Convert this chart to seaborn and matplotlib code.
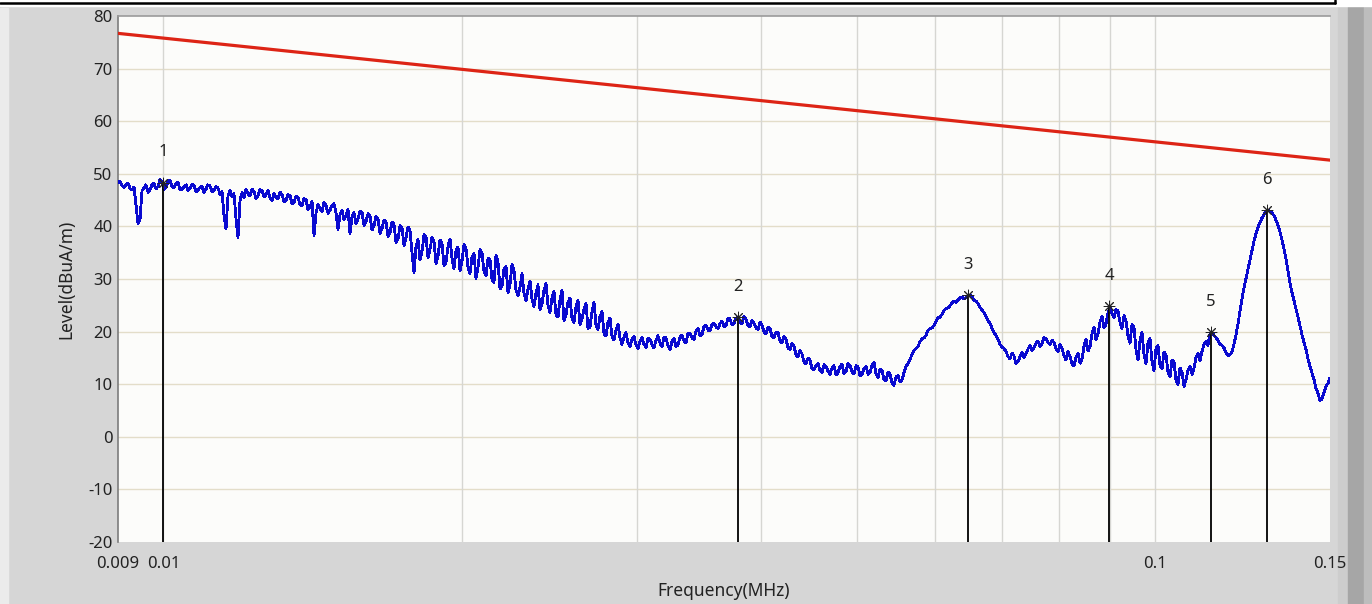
import numpy as np
import pandas as pd
import matplotlib
matplotlib.use("Agg")
import matplotlib.pyplot as plt
from matplotlib.patches import Rectangle
from matplotlib.lines import Line2D
import seaborn as sns

# ---------------- data ----------------
f_start, f_stop = 0.009, 0.15          # MHz, analyser sweep span
# measured level (dBuA/m), one reading per sweep step (log-spaced sweep)
trace_levels = [
    # 0.009 - 0.0111
    48.3, 48.6, 47.8, 47.4, 48.0, 48.2, 47.2, 46.9, 47.5, 44.1,
    40.6, 41.2, 46.8, 47.3, 47.9, 46.5, 46.9, 48.0, 48.2, 47.1,
    47.6, 48.9, 48.6, 47.0, 47.4, 48.5, 48.8, 47.6, 47.3, 48.1,
    48.4, 46.9, 47.0, 47.6, 47.9, 46.8, 47.2, 48.0, 47.8, 46.6,
    46.9, 47.4, 47.6, 46.5, 47.1, 47.9, 47.7, 46.6, 46.8, 47.6,
    # 0.0111 - 0.0139
    47.3, 46.1, 46.6, 42.0, 39.5, 45.8, 46.9, 45.6, 46.2, 41.5,
    37.9, 44.9, 46.4, 45.5, 47.0, 46.2, 45.8, 47.1, 46.6, 45.3,
    45.9, 47.0, 46.8, 45.6, 46.0, 46.9, 45.4, 44.9, 46.3, 45.5,
    45.2, 46.5, 46.1, 44.7, 44.9, 46.0, 45.9, 44.3, 44.6, 45.8,
    45.5, 44.2, 43.9, 45.3, 45.1, 43.2, 43.6, 44.8, 38.3, 42.5,
    # 0.0139 - 0.0174
    44.2, 43.4, 42.8, 44.6, 44.0, 42.5, 43.1, 44.0, 44.3, 42.6,
    39.4, 42.2, 43.0, 41.3, 42.1, 43.2, 38.6, 41.8, 42.6, 40.5,
    41.4, 42.9, 42.7, 40.2, 40.9, 42.4, 42.0, 39.3, 40.2, 41.9,
    41.5, 38.7, 39.6, 41.2, 40.9, 38.1, 38.8, 40.8, 40.4, 36.9,
    37.6, 40.1, 39.8, 36.4, 37.9, 39.9, 39.2, 35.0, 31.2, 36.2,
    # 0.0174 - 0.0218
    37.5, 33.6, 35.2, 38.4, 38.0, 34.1, 35.6, 37.9, 37.2, 32.9,
    34.4, 37.4, 36.8, 32.5, 33.1, 36.2, 37.6, 33.9, 32.0, 35.4,
    36.1, 31.6, 33.4, 36.6, 35.8, 32.3, 31.0, 34.2, 34.9, 30.1,
    32.2, 35.6, 35.0, 31.4, 30.6, 33.9, 33.8, 29.9, 29.4, 34.5,
    33.2, 28.1, 28.6, 31.9, 32.4, 27.4, 29.0, 32.8, 31.6, 27.9,
    # 0.0218 - 0.0274
    26.8, 28.4, 31.0, 27.3, 25.9, 28.1, 29.6, 26.2, 24.8, 27.3,
    28.9, 24.1, 25.3, 27.9, 29.1, 25.0, 23.6, 26.4, 27.6, 23.2,
    22.8, 26.1, 27.9, 22.0, 23.2, 25.6, 26.4, 22.5, 21.7, 24.8,
    26.0, 21.3, 22.4, 24.2, 25.4, 20.6, 20.9, 23.8, 25.6, 21.2,
    20.4, 22.9, 23.8, 19.6, 19.2, 21.8, 22.6, 19.0, 18.4, 20.3,
    # 0.0274 - 0.0344
    21.4, 18.8, 17.6, 19.0, 19.8, 17.9, 17.2, 18.5, 19.1, 17.4,
    16.8, 18.2, 18.9, 17.6, 17.0, 18.7, 18.6, 17.5, 16.9, 18.3,
    19.2, 17.8, 17.1, 18.9, 18.8, 17.3, 16.6, 18.1, 18.7, 17.2,
    17.4, 19.0, 19.3, 18.2, 17.9, 19.7, 19.6, 18.8, 18.5, 20.1,
    20.6, 19.2, 19.4, 21.0, 21.2, 20.3, 20.1, 21.4, 21.6, 20.9,
    # 0.0344 - 0.0432
    20.6, 21.5, 22.0, 21.0, 21.1, 22.6, 22.4, 21.3, 21.6, 22.5,
    22.7, 21.8, 21.5, 22.9, 22.3, 21.2, 20.9, 22.1, 21.6, 20.7,
    20.4, 21.8, 21.3, 19.9, 19.6, 20.8, 20.6, 19.0, 18.9, 19.9,
    19.8, 18.2, 17.9, 19.0, 18.6, 16.9, 16.6, 17.8, 17.2, 15.6,
    15.2, 16.4, 15.8, 14.2, 13.9, 15.0, 14.6, 12.9, 12.8, 13.6,
    # 0.0432 - 0.0542
    13.9, 12.6, 12.2, 13.7, 13.4, 12.5, 11.9, 13.1, 13.5, 11.8,
    12.1, 13.4, 13.8, 12.0, 12.4, 13.9, 13.6, 12.3, 12.0, 13.5,
    13.3, 11.6, 11.8, 13.0, 13.4, 11.9, 12.2, 13.6, 14.2, 12.0,
    11.3, 12.9, 12.6, 10.9, 10.6, 12.3, 12.0, 10.2, 9.8, 11.4,
    11.6, 10.4, 10.8, 12.2, 13.4, 13.9, 14.6, 15.7, 16.4, 16.8,
    # 0.0542 - 0.0681
    17.2, 18.1, 18.6, 18.8, 19.3, 20.2, 20.6, 20.7, 21.2, 22.0,
    22.6, 22.7, 23.3, 24.0, 24.4, 24.5, 24.9, 25.5, 25.8, 25.6,
    26.0, 26.4, 26.6, 26.2, 26.5, 26.8, 26.9, 26.6, 26.0, 25.8,
    25.3, 24.6, 24.1, 23.6, 22.9, 22.1, 21.6, 20.6, 19.8, 19.3,
    18.5, 17.6, 17.0, 16.8, 16.2, 15.3, 14.8, 15.9, 15.4, 13.9,
    # 0.0681 - 0.0856
    14.3, 15.2, 16.0, 15.1, 15.8, 16.7, 17.4, 16.4, 16.9, 17.8,
    18.2, 17.1, 17.7, 18.9, 18.6, 17.9, 17.6, 18.4, 17.9, 16.8,
    16.2, 17.5, 16.9, 15.4, 14.6, 16.2, 15.3, 13.8, 13.5, 15.1,
    15.9, 14.0, 14.8, 17.2, 18.6, 16.3, 17.1, 19.6, 20.8, 18.4,
    19.6, 21.8, 22.9, 20.7, 21.4, 23.6, 24.6, 23.4, 22.6, 24.2,
    # 0.0856 - 0.1075
    23.9, 21.8, 20.6, 23.0, 22.1, 19.2, 17.8, 21.4, 20.9, 16.5,
    14.6, 18.3, 19.8, 15.7, 13.9, 17.9, 18.7, 14.3, 12.6, 16.8,
    17.4, 13.6, 12.9, 16.1, 15.6, 12.2, 11.4, 14.6, 14.2, 10.8,
    10.0, 13.1, 12.3, 9.6, 10.8, 12.6, 13.4, 11.9, 13.0, 15.1,
    15.8, 14.4, 16.2, 17.6, 18.1, 17.4, 19.6, 19.9, 19.2, 18.9,
    # 0.1075 - 0.15
    18.3, 17.6, 17.4, 16.9, 16.1, 15.4, 15.6, 16.2, 17.6, 19.4,
    21.5, 23.9, 26.2, 28.3, 30.1, 31.9, 33.6, 35.5, 37.2, 38.6,
    39.8, 40.8, 41.6, 42.3, 42.8, 43.0, 42.9, 42.6, 42.0, 41.2,
    40.2, 38.9, 37.4, 35.7, 33.9, 31.6, 29.2, 27.4, 25.9, 24.3,
    22.8, 21.1, 19.4, 17.9, 16.6, 14.8, 13.4, 12.1, 10.9, 9.2,
    8.3, 6.9, 7.2, 8.4, 9.6, 10.2, 11.2,
]

limit_freq = [0.009, 0.15]
limit_level = [76.7, 52.6]

marker_ids = ["1", "2", "3", "4", "5", "6"]
marker_freq = [0.0100, 0.0380, 0.0647, 0.0899, 0.1138, 0.1295]
marker_level = [48.3, 22.7, 26.9, 24.8, 19.9, 43.1]

y_ticks = [-20, -10, 0, 10, 20, 30, 40, 50, 60, 70, 80]
x_ticks = [0.009, 0.01, 0.1, 0.15]
x_ticklabels = ["0.009", "0.01", "0.1", "0.15"]
x_grid = [0.01, 0.02, 0.03, 0.04, 0.05, 0.06, 0.07, 0.08, 0.09, 0.1]

# ---------------- style ----------------
sns.set_style("white")
plt.rcParams["font.family"] = ["Noto Sans", "DejaVu Sans"]
plt.rcParams["axes.unicode_minus"] = False

fig = plt.figure(figsize=(13.72, 6.04), dpi=100)
fig.patch.set_facecolor("#d6d6d6")

W, H = 1372, 604
ax = fig.add_axes([118 / W, 1 - 542 / H, (1330 - 118) / W, (542 - 16) / H])
ax.set_facecolor("#fcfcfa")

trace_df = pd.DataFrame({
    "freq": np.geomspace(f_start, f_stop, len(trace_levels)),
    "level": trace_levels,
})
limit_df = pd.DataFrame({"freq": limit_freq, "level": limit_level})
marker_df = pd.DataFrame({"freq": marker_freq, "level": marker_level, "id": marker_ids})

ax.set_xscale("log")
ax.set_xlim(0.009, 0.15)
ax.set_ylim(-20, 80)

# grid
for yv in y_ticks[1:-1]:
    ax.axhline(yv, color="#e3ddc9", lw=1.0, zorder=0)
for xv in x_grid:
    ax.axvline(xv, color="#d6d6d2", lw=1.0, zorder=0)

sns.lineplot(data=limit_df, x="freq", y="level", ax=ax, color="#dd2415",
             lw=2.3, sort=False, estimator=None, zorder=3)
sns.lineplot(data=trace_df, x="freq", y="level", ax=ax, color="#0a0ad0",
             lw=1.3, sort=False, estimator=None, antialiased=False, zorder=4)

ax.vlines(marker_df["freq"], -20, marker_df["level"], color="black", lw=1.3, zorder=5)
sns.scatterplot(data=marker_df, x="freq", y="level", ax=ax, marker=(8, 2, 0),
                s=60, color="#222222", linewidth=0.7, zorder=6)
for _, r in marker_df.iterrows():
    ax.text(r["freq"], r["level"] + 5.8, r["id"], ha="center", va="center",
            fontsize=12, color="#222222", zorder=7)

ax.set_xticks(x_ticks)
ax.set_xticklabels(x_ticklabels)
ax.xaxis.set_minor_locator(matplotlib.ticker.NullLocator())
ax.set_yticks(y_ticks)
ax.tick_params(axis="x", length=0, pad=10, labelsize=12, colors="#222222")
ax.tick_params(axis="y", length=0, pad=4, labelsize=12, colors="#222222")

ax.set_xlabel("Frequency(MHz)", fontsize=12.5, color="#222222", labelpad=7)
ax.set_ylabel("Level(dBuA/m)", fontsize=12.5, color="#222222", labelpad=9)

for side in ["right", "bottom"]:
    ax.spines[side].set_visible(False)
ax.spines["left"].set_color("#7c7c7c")
ax.spines["left"].set_linewidth(1.2)
ax.spines["top"].set_color("#9a9a9a")
ax.spines["top"].set_linewidth(1.2)

# window chrome
fig.patches.append(Rectangle((0, 0), 8 / W, 1 - 8 / H, transform=fig.transFigure,
                             color="#ebebeb", zorder=-1))
fig.patches.append(Rectangle((1338 / W, 0), 10 / W, 1, transform=fig.transFigure,
                             color="#cdcdcd", zorder=-1))
fig.patches.append(Rectangle((1348 / W, 0), 16 / W, 1, transform=fig.transFigure,
                             color="#a6a6a6", zorder=-1))
fig.patches.append(Rectangle((1364 / W, 0), 8 / W, 1, transform=fig.transFigure,
                             color="#bdbdbd", zorder=-1))
fig.patches.append(Rectangle((0, 1 - 6 / H), 1, 6 / H, transform=fig.transFigure,
                             color="white", zorder=-1))
fig.lines.append(Line2D([0, 1335 / W], [1 - 3 / H, 1 - 3 / H], transform=fig.transFigure,
                        color="black", lw=1.8))
fig.lines.append(Line2D([1335 / W, 1335 / W], [1 - 3 / H, 1], transform=fig.transFigure,
                        color="black", lw=1.8))

fig.savefig("out.png", dpi=100, facecolor=fig.get_facecolor())
